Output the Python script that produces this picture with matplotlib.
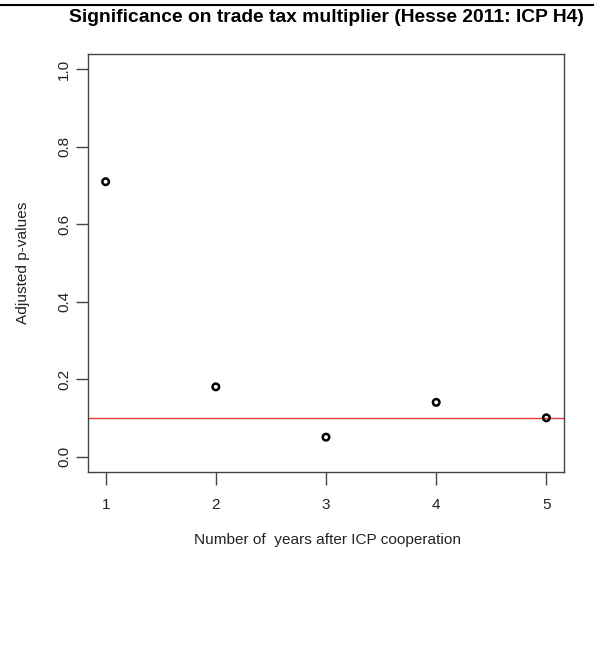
import matplotlib
matplotlib.use("Agg")
import matplotlib.pyplot as plt
from matplotlib.lines import Line2D

years = [1, 2, 3, 4, 5]
adj_p = [0.71, 0.18, 0.05, 0.14, 0.10]
threshold = 0.10
x_ticks = [1, 2, 3, 4, 5]
y_ticks = [0.0, 0.2, 0.4, 0.6, 0.8, 1.0]

title = "Significance on trade tax multiplier (Hesse 2011: ICP H4)"
xlabel = "Number of  years after ICP cooperation"
ylabel = "Adjusted p-values"

plt.rcParams["font.family"] = ["Liberation Sans", "DejaVu Sans"]

W, H = 601, 652
fig = plt.figure(figsize=(W / 100, H / 100), dpi=100)
fig.patch.set_facecolor("white")

left, right, top, bottom = 88, 564, 54, 472
ax = fig.add_axes([left / W, 1 - bottom / H, (right - left) / W, (bottom - top) / H])

ax.scatter(years, adj_p, s=22, facecolors="none", edgecolors="black",
           linewidths=1.8, zorder=3)
ax.axhline(threshold, color="#e8383a", linewidth=1.0, zorder=2)

# R-style 4% padding on the data ranges
ax.set_xlim(1 - 0.16, 5 + 0.16)
ax.set_ylim(-0.04, 1.04)

ax.set_xticks(x_ticks)
ax.set_xticklabels([str(v) for v in x_ticks])
ax.set_yticks(y_ticks)
ax.set_yticklabels([f"{v:.1f}" for v in y_ticks], rotation=90, va="center")

axis_col = "#444444"
for sp in ax.spines.values():
    sp.set_color(axis_col)
    sp.set_linewidth(1.0)
ax.tick_params(axis="both", direction="out", length=9, width=1.0,
               color=axis_col, labelsize=11, labelcolor="#222222")
ax.tick_params(axis="x", pad=10)
ax.tick_params(axis="y", pad=3)

fig.text((left + right) / 2 / W, 1 - 17 / H, title, ha="center", va="center",
         fontsize=13.9, fontweight="bold", color="black")
fig.text(327 / W, 1 - 540 / H, xlabel, ha="center", va="center",
         fontsize=11.1, color="#222222")
fig.text(23 / W, 1 - 263 / H, ylabel, ha="center", va="center",
         rotation=90, fontsize=11.1, color="#222222")

# rule across the top edge
fig.add_artist(Line2D([0, 593 / W], [1 - 5 / H, 1 - 5 / H], color="black",
                      linewidth=1.5, transform=fig.transFigure))

fig.savefig("out.png", dpi=100, facecolor="white")
